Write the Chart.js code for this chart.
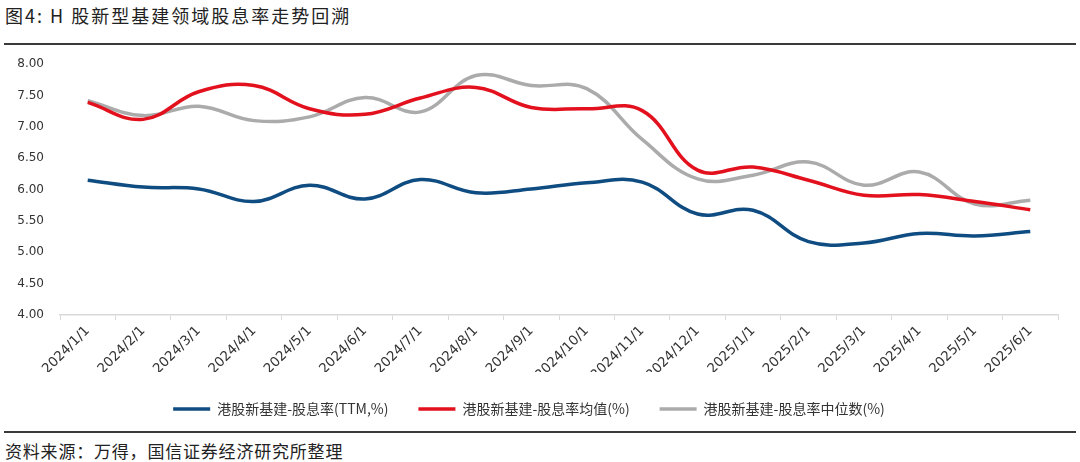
<!DOCTYPE html>
<html>
<head>
<meta charset="utf-8">
<script src="https://cdn.jsdelivr.net/npm/chart.js@4/dist/chart.umd.min.js"></script>
<style>
    html, body { margin: 0; padding: 0; background: #fff; }
    body { width: 1080px; height: 462px; position: relative; overflow: hidden; font-family: "Noto Sans CJK SC", sans-serif; }
    #title { position: absolute; left: 5px; top: 2px; font-size: 18px; letter-spacing: 2px; color: #222; white-space: nowrap; }
    .rule { position: absolute; left: 4px; width: 1072px; height: 0; border-top: 2px solid #3a3a3a; }
    #source { position: absolute; left: 5px; top: 438px; font-size: 17px; letter-spacing: 0.8px; color: #222; white-space: nowrap; }
    #chartBox { position: absolute; left: 0; top: 41px; width: 1080px; height: 389px; }
</style>
</head>
<body>
<div id="title">图4: H 股新型基建领域股息率走势回溯</div>
<div id="chartBox"><canvas id="dividendChart"></canvas></div>
<div class="rule" style="top:43px"></div>
<div class="rule" style="top:431px"></div>
<div id="source">资料来源：万得，国信证券经济研究所整理</div>

<script>
// Month labels on the x axis
const months = [
    '2024/1/1', '2024/2/1', '2024/3/1', '2024/4/1', '2024/5/1', '2024/6/1',
    '2024/7/1', '2024/8/1', '2024/9/1', '2024/10/1', '2024/11/1', '2024/12/1',
    '2025/1/1', '2025/2/1', '2025/3/1', '2025/4/1', '2025/5/1', '2025/6/1'
];

// 港股新基建-股息率(TTM,%)
const ttmYield = [6.15, 6.04, 6.01, 5.81, 6.07, 5.85, 6.16, 5.95, 6.01, 6.11, 6.12, 5.61, 5.67, 5.17, 5.15, 5.30, 5.26, 5.33];
// 港股新基建-股息率均值(%)
const meanYield = [7.39, 7.12, 7.56, 7.66, 7.29, 7.20, 7.46, 7.63, 7.31, 7.29, 7.26, 6.31, 6.36, 6.15, 5.91, 5.92, 5.81, 5.68];
// 港股新基建-股息率中位数(%)
const medianYield = [7.42, 7.18, 7.33, 7.10, 7.16, 7.47, 7.24, 7.82, 7.66, 7.61, 6.80, 6.17, 6.23, 6.44, 6.07, 6.28, 5.77, 5.83];

const seriesNames = ['港股新基建-股息率(TTM,%)', '港股新基建-股息率均值(%)', '港股新基建-股息率中位数(%)'];
const seriesColors = ['#0f4c81', '#e2111d', '#ababab'];

const yMin = 4;
const yMax = 8;
const yStep = 0.5;

function makeDataset(i, values) {
    return {
        label: seriesNames[i],
        data: values,
        borderColor: seriesColors[i],
        backgroundColor: seriesColors[i],
        borderWidth: 3.5,
        pointRadius: 0,
        tension: 0.4,
        fill: false
    };
}

const ctx = document.getElementById('dividendChart').getContext('2d');
new Chart(ctx, {
    type: 'line',
    data: {
        labels: months,
        datasets: [
            makeDataset(0, ttmYield),
            makeDataset(1, meanYield),
            makeDataset(2, medianYield)
        ]
    },
    options: {
        responsive: true,
        maintainAspectRatio: false,
        animation: false,
        layout: { padding: { top: 4, right: 22, left: 0, bottom: 4 } },
        plugins: {
            tooltip: { enabled: false },
            legend: {
                position: 'bottom',
                labels: {
                    usePointStyle: true,
                    pointStyle: 'line',
                    pointStyleWidth: 37,
                    boxWidth: 37,
                    padding: 30,
                    color: '#333',
                    font: { family: 'Noto Sans CJK SC', size: 14 }
                }
            }
        },
        scales: {
            x: {
                offset: true,
                grid: {
                    offset: true,
                    drawOnChartArea: false,
                    drawTicks: true,
                    tickLength: 5,
                    color: '#d9d9d9'
                },
                border: { display: true, color: '#d9d9d9', width: 1.5 },
                ticks: {
                    autoSkip: false,
                    maxRotation: 45,
                    minRotation: 45,
                    padding: 3,
                    color: '#333',
                    font: { family: 'DejaVu Sans', size: 13.5 }
                },
                afterFit: scale => { scale.height = 57; }
            },
            y: {
                min: yMin,
                max: yMax,
                grid: { display: false, drawTicks: false },
                border: { display: false },
                ticks: {
                    stepSize: yStep,
                    padding: 16,
                    color: '#333',
                    font: { family: 'DejaVu Sans', size: 12 },
                    callback: value => Number(value).toFixed(2)
                },
                afterFit: scale => { scale.width = 60; }
            }
        }
    }
});
</script>
</body>
</html>
